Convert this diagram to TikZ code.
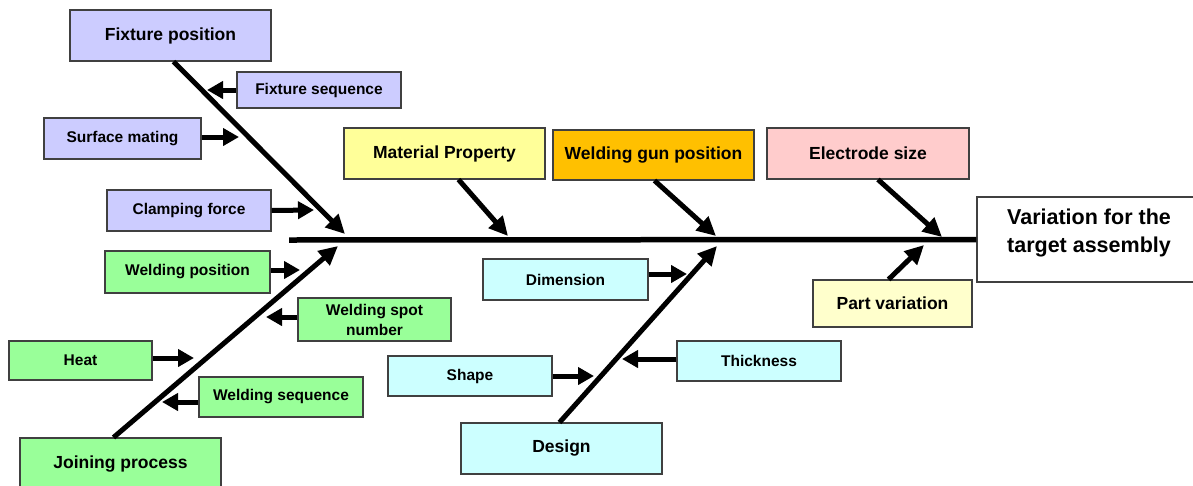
\documentclass[tikz,border=0pt]{standalone}
\usepackage{fontspec}
\setmainfont{Liberation Sans}
\usetikzlibrary{arrows.meta,calc}

\definecolor{lav}{RGB}{204,204,255}
\definecolor{grn}{RGB}{153,255,153}
\definecolor{ylw}{RGB}{255,255,153}
\definecolor{org}{RGB}{255,192,0}
\definecolor{pnk}{RGB}{255,204,204}
\definecolor{cyn}{RGB}{204,255,255}
\definecolor{lylw}{RGB}{255,255,204}

\tikzset{
  cbox/.style={draw=black!75, line width=1.1pt, inner sep=0pt, align=center,
    font=\bfseries\fontsize{15.5}{20}\selectfont},
  bigbox/.style={cbox, font=\bfseries\fontsize{17.5}{21}\selectfont},
  bone/.style={line width=5pt, -{Triangle[length=19pt,width=18pt]}},
  twig/.style={line width=5pt, -{Triangle[length=16pt,width=17pt]}},
  spine/.style={line width=5.5pt}
}

\begin{document}
\begin{tikzpicture}[x=1pt,y=-1pt]
\useasboundingbox[fill=white] (0,0) rectangle (1193,485);

% effect box
\node[draw=black!75, line width=1.1pt, minimum width=224pt, minimum height=85pt] (eff) at (1089,239.5) {};
\node[font=\bfseries\fontsize{21.5}{28}\selectfont, align=center] (efftxt) at (1089,233) {Variation for the\\target assembly};

% spine
\coordinate (spst) at (289,240);
\draw[spine] (spst) -- (eff.west);

% main category boxes
\node[bigbox, fill=lav, minimum width=201pt, minimum height=51pt] (fixpos) at (170.5,35.5) {Fixture position};
\node[bigbox, fill=grn, minimum width=201pt, minimum height=52pt] (join) at (120.5,464) {Joining process};
\node[bigbox, fill=ylw, minimum width=201pt, minimum height=51pt] (mat) at (444.5,153.5) {Material Property};
\node[bigbox, fill=org, minimum width=201pt, minimum height=50pt] (gun) at (653.5,155) {Welding gun position};
\node[bigbox, fill=pnk, minimum width=202pt, minimum height=51pt] (elec) at (868,153.5) {Electrode size};
\node[bigbox, fill=cyn, minimum width=201pt, minimum height=51pt] (design) at (561.5,448.5) {Design};
\node[bigbox, fill=lylw, minimum width=159pt, minimum height=47pt] (part) at (892.5,303.5) {Part variation};

% sub-cause boxes
\node[cbox, fill=lav, minimum width=164pt, minimum height=36pt] (fseq) at (319,90) {Fixture sequence};
\node[cbox, fill=lav, minimum width=157pt, minimum height=41pt] (surf) at (122.5,138.5) {Surface mating};
\node[cbox, fill=lav, minimum width=164pt, minimum height=41pt] (clamp) at (189,210.5) {Clamping force};
\node[cbox, fill=grn, minimum width=165pt, minimum height=42pt] (wpos) at (187.5,272) {Welding position};
\node[cbox, fill=grn, minimum width=153pt, minimum height=43pt] (spot) at (374.5,319.5) {Welding spot\\number};
\node[cbox, fill=grn, minimum width=143pt, minimum height=39pt] (heat) at (80.5,360.5) {Heat};
\node[cbox, fill=grn, minimum width=164pt, minimum height=40pt] (wseq) at (281,397) {Welding sequence};
\node[cbox, fill=cyn, minimum width=165pt, minimum height=41pt] (dim) at (565.5,279.5) {Dimension};
\node[cbox, fill=cyn, minimum width=164pt, minimum height=40pt] (shape) at (470,376) {Shape};
\node[cbox, fill=cyn, minimum width=164pt, minimum height=40pt] (thick) at (759,361) {Thickness};

% bone tips on the spine
\coordinate (fixTip) at (345,234);
\coordinate (joinTip) at (338,246);
\coordinate (matTip) at (508,236);
\coordinate (gunTip) at (716,236);
\coordinate (elecTip) at (942,237);
\coordinate (desTip) at (717,246);
\coordinate (partTip) at (924,245);

% main bones
\draw[bone] ($(fixpos.south)+(3,0)$) -- (fixTip);
\draw[bone] ($(join.north)+(-7,0)$) -- (joinTip);
\draw[bone] ($(mat.south)+(14,0)$) -- (matTip);
\draw[bone] ($(gun.south)+(1,0)$) -- (gunTip);
\draw[bone] ($(elec.south)+(10,0)$) -- (elecTip);
\draw[bone] ($(design.north)+(-2,0)$) -- (desTip);
\draw[bone] ($(part.north)+(-4,0)$) -- (partTip);

% sub-cause arrows
\coordinate (fseqTip) at (207,90);
\coordinate (surfTip) at (239,137);
\coordinate (clampTip) at (314,210);
\coordinate (wposTip) at (300,270);
\coordinate (spotTip) at (266,317);
\coordinate (heatTip) at (194,358);
\coordinate (wseqTip) at (162,402);
\coordinate (dimTip) at (687,274);
\coordinate (shapeTip) at (594,376);
\coordinate (thickTip) at (622,359);

\draw[twig] (fseq.west) -- (fseqTip);
\draw[twig] (surf.east |- surfTip) -- (surfTip);
\draw[twig] (clamp.east) -- (clampTip);
\draw[twig] (wpos.east |- wposTip) -- (wposTip);
\draw[twig] (spot.west |- spotTip) -- (spotTip);
\draw[twig] (heat.east |- heatTip) -- (heatTip);
\draw[twig] (wseq.west |- wseqTip) -- (wseqTip);
\draw[twig] (dim.east |- dimTip) -- (dimTip);
\draw[twig] (shape.east |- shapeTip) -- (shapeTip);
\draw[twig] (thick.west |- thickTip) -- (thickTip);
\end{tikzpicture}
\end{document}
